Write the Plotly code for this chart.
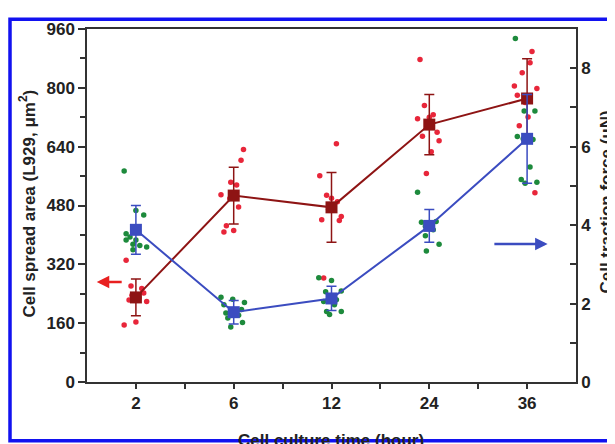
import plotly.graph_objects as go

# ---------------- data ----------------
times = ['2', '6', '12', '24', '36']

area_mean = [230, 507, 475, 700, 771]
area_err = [50, 77, 95, 82, 108]
force_mean = [3.88, 1.78, 2.13, 3.98, 6.2]
force_err = [0.62, 0.3, 0.31, 0.42, 1.13]

area_points = [
    [331, 261, 254, 236, 223, 230, 219, 242, 155, 163],
    [632, 603, 543, 536, 509, 499, 476, 425, 408, 412],
    [648, 561, 508, 500, 490, 470, 450, 441, 439, 283],
    [877, 752, 727, 720, 716, 679, 668, 656, 626, 567],
    [899, 868, 841, 805, 798, 780, 760, 721, 697, 515],
]
area_jitter = [
    [-0.1, -0.05, 0.06, -0.04, -0.07, 0.03, 0.11, 0.08, -0.12, 0.0],
    [0.1, 0.075, -0.03, 0.03, -0.13, -0.04, 0.05, -0.075, -0.1, 0.0],
    [0.05, -0.12, -0.05, 0.0, 0.06, -0.03, 0.1, -0.1, 0.08, -0.08],
    [-0.095, -0.05, 0.04, 0.0, -0.12, 0.08, -0.07, 0.1, 0.02, -0.03],
    [0.05, 0.03, -0.05, -0.13, 0.1, -0.1, -0.02, 0.01, -0.08, 0.08],
]
force_points = [
    [5.38, 4.37, 4.26, 3.78, 3.7, 3.62, 3.62, 3.48, 3.44, 3.51, 3.37],
    [2.16, 2.11, 2.03, 1.97, 1.85, 1.76, 1.7, 1.63, 1.52, 1.4],
    [2.66, 2.59, 2.32, 2.3, 2.1, 2.05, 1.97, 1.8, 1.8, 1.72],
    [4.84, 4.09, 4.07, 4.0, 3.97, 3.88, 3.73, 3.51, 3.34],
    [8.76, 6.91, 6.91, 6.26, 6.2, 6.18, 5.48, 5.16, 5.07, 5.09],
]
force_jitter = [
    [-0.12, 0.0, 0.08, -0.1, -0.06, 0.0, -0.1, 0.04, 0.11, -0.03, -0.03],
    [-0.13, -0.01, 0.11, -0.1, 0.08, -0.08, 0.05, -0.06, 0.09, -0.03],
    [-0.13, 0.0, 0.1, -0.06, 0.05, -0.08, 0.03, 0.1, -0.05, -0.02],
    [-0.12, 0.07, -0.08, 0.0, -0.04, 0.04, -0.04, 0.1, -0.03],
    [-0.12, -0.03, 0.08, -0.1, -0.04, 0.06, 0.03, -0.06, -0.02, 0.1],
]

# ---------------- styling ----------------
FONT = "Liberation Sans, Arial, sans-serif"
RED_DOT = "#e8263a"
GREEN_DOT = "#1d8a3c"
DARK_RED = "#8e1414"
BLUE = "#3b4cc0"
AXIS = "#333333"

idx = list(range(len(times)))

def flat(points, jitter):
    xs, ys = [], []
    for i, (vals, offs) in enumerate(zip(points, jitter)):
        for v, o in zip(vals, offs):
            xs.append(i + o)
            ys.append(v)
    return xs, ys

ax_x, ax_y = flat(area_points, area_jitter)
fx_x, fx_y = flat(force_points, force_jitter)

fig = go.Figure()

fig.add_trace(go.Scatter(x=ax_x, y=ax_y, mode="markers",
                         marker=dict(color=RED_DOT, size=5.5), yaxis="y", showlegend=False))
fig.add_trace(go.Scatter(x=idx, y=area_mean, mode="lines+markers",
                         line=dict(color=DARK_RED, width=2),
                         marker=dict(symbol="square", size=12, color=DARK_RED),
                         error_y=dict(type="data", array=area_err, color=DARK_RED,
                                      thickness=1.5, width=5),
                         yaxis="y", showlegend=False))
fig.add_trace(go.Scatter(x=fx_x, y=fx_y, mode="markers",
                         marker=dict(color=GREEN_DOT, size=5.5), yaxis="y2", showlegend=False))
fig.add_trace(go.Scatter(x=idx, y=force_mean, mode="lines+markers",
                         line=dict(color=BLUE, width=2),
                         marker=dict(symbol="square", size=12, color=BLUE),
                         error_y=dict(type="data", array=force_err, color=BLUE,
                                      thickness=1.5, width=5),
                         yaxis="y2", showlegend=False))

tickfont = dict(family=FONT, size=17, color="#222222", weight="bold")

# page is shown with an 8px body margin, so figure pixels = page pixels - 8
W, H = 607, 436
L, R, T, B = 79, 39, 14, 62
pw, ph = W - L - R, H - T - B

def px(xp):
    return (xp - L) / pw

def py(yp):
    return (H - B - yp) / ph

fig.update_layout(
    width=W, height=H,
    margin=dict(l=L, r=R, t=T, b=B),
    paper_bgcolor="white", plot_bgcolor="white",
    xaxis=dict(range=[-0.5, 4.5], tickvals=idx, ticktext=times, tickfont=tickfont,
               showline=True, linecolor=AXIS, linewidth=1.5, mirror=True,
               ticks="outside", ticklen=5, tickwidth=1.5, tickcolor=AXIS,
               showgrid=False, zeroline=False,
               minor=dict(tickvals=[0.5, 1.5, 2.5, 3.5], ticks="outside", ticklen=5,
                          tickwidth=1.5, tickcolor=AXIS)),
    yaxis=dict(range=[0, 960], tickvals=[0, 160, 320, 480, 640, 800, 960], tickfont=tickfont,
               showline=True, linecolor=AXIS, linewidth=1.5,
               ticks="outside", ticklen=7, tickwidth=1.5, tickcolor=AXIS,
               showgrid=False, zeroline=False,
               minor=dict(dtick=80, ticks="outside", ticklen=5, tickwidth=1.5, tickcolor=AXIS)),
    yaxis2=dict(range=[0, 9], tickvals=[0, 2, 4, 6, 8], tickfont=tickfont,
                overlaying="y", side="right",
                showline=True, linecolor=AXIS, linewidth=1.5,
                ticks="inside", ticklen=6, tickwidth=1.5, tickcolor=AXIS,
                showgrid=False, zeroline=False,
                minor=dict(dtick=1, ticks="inside", ticklen=6, tickwidth=1.5, tickcolor=AXIS)),
)

titlefont = dict(family=FONT, size=17, color="#222222", weight="bold")
fig.add_annotation(text="Cell spread area (L929, μm<sup>2</sup>)", xref="paper", yref="paper",
                   x=px(19), y=py(192), textangle=-90, showarrow=False,
                   xanchor="center", yanchor="middle", font=titlefont)
fig.add_annotation(text="Cell traction force (μN)", xref="paper", yref="paper",
                   x=px(599), y=py(191), textangle=-90, showarrow=False,
                   xanchor="center", yanchor="middle", font=titlefont)
fig.add_annotation(text="Cell culture time (hour)", xref="paper", yref="paper",
                   x=px(323), y=py(422), showarrow=False,
                   xanchor="center", yanchor="top", font=titlefont)

# arrows indicating which axis each series uses
fig.add_annotation(x=-0.4, y=272, ax=-0.13, ay=272, xref="x", yref="y", axref="x", ayref="y",
                   text="", showarrow=True, arrowhead=2, arrowsize=1, arrowwidth=2.5,
                   arrowcolor="#e82020")
fig.add_annotation(x=4.21, y=3.52, ax=3.65, ay=3.52, xref="x", yref="y2", axref="x", ayref="y2",
                   text="", showarrow=True, arrowhead=2, arrowsize=1, arrowwidth=2.5,
                   arrowcolor=BLUE)

# blue frame around figure
fig.add_shape(type="rect", xref="paper", yref="paper",
              x0=px(2), x1=px(605), y0=py(434), y1=py(4),
              line=dict(color="#1212f0", width=3.5), layer="above")

fig.write_html("out.html")
